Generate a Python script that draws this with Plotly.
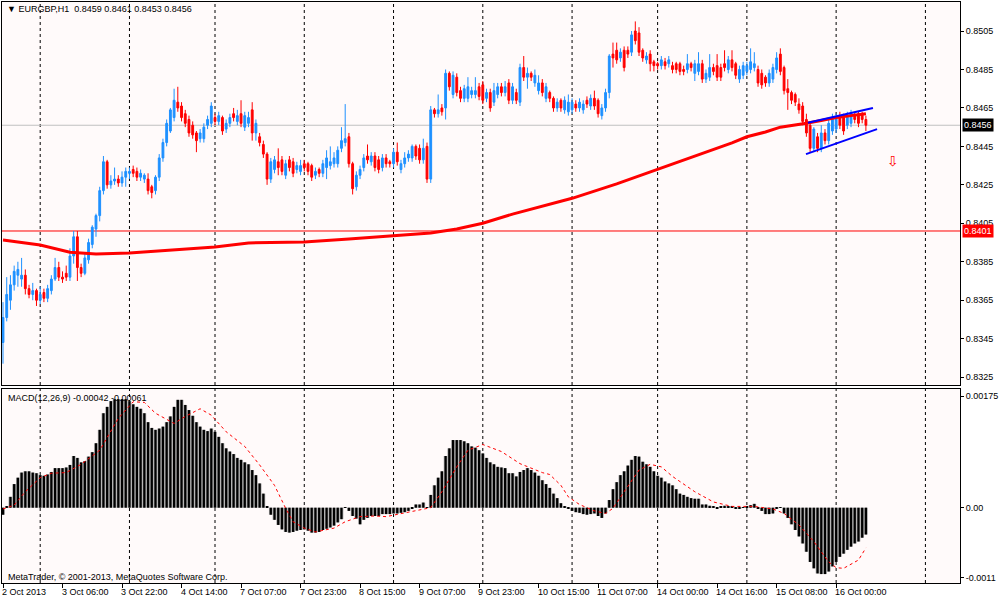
"""EURGBP H1 chart with 200-bar MA and MACD(12,26,9), MetaTrader style."""
import plotly.graph_objects as go

FONT = "Liberation Sans"
PIP = 0.0001       # price lists below are in pips
MACD_UNIT = 0.00001  # MACD lists below are in 1e-5

# one entry per hourly bar, 2 Oct 2013 14:00 .. 16 Oct 2013 08:00
open_pips = [
    8343, 8356, 8365, 8373, 8378, 8376, 8378, 8371, 8368, 8370,
    8365, 8369, 8366, 8370, 8376, 8382, 8377, 8379, 8377, 8388,
    8398, 8382, 8379, 8386, 8394, 8402, 8409, 8422, 8437, 8425,
    8427, 8428, 8426, 8429, 8431, 8433, 8432, 8429, 8428, 8428,
    8424, 8422, 8429, 8439, 8447, 8453, 8460, 8468, 8466, 8462,
    8459, 8456, 8452, 8449, 8449, 8456, 8457, 8460, 8458, 8460,
    8454, 8457, 8462, 8458, 8462, 8455, 8457, 8464, 8452, 8450,
    8446, 8441, 8428, 8433, 8437, 8438, 8430, 8438, 8437, 8433,
    8432, 8436, 8436, 8435, 8430, 8433, 8431, 8434, 8435, 8436,
    8436, 8444, 8447, 8450, 8436, 8424, 8430, 8434, 8440, 8437,
    8440, 8438, 8434, 8439, 8437, 8436, 8442, 8433, 8436, 8439,
    8439, 8445, 8444, 8438, 8445, 8428, 8464, 8462, 8465, 8465,
    8483, 8472, 8481, 8474, 8470, 8470, 8472, 8472, 8476, 8477,
    8470, 8473, 8468, 8472, 8476, 8473, 8478, 8469, 8473, 8468,
    8486, 8481, 8483, 8478, 8474, 8478, 8470, 8473, 8470, 8465,
    8469, 8464, 8463, 8464, 8467, 8465, 8464, 8469, 8466, 8470,
    8469, 8461, 8465, 8473, 8493, 8495, 8491, 8495, 8495, 8494,
    8505, 8504, 8495, 8490, 8493, 8489, 8488, 8487, 8489, 8488,
    8487, 8488, 8488, 8485, 8485, 8488, 8483, 8484, 8488, 8480,
    8481, 8486, 8487, 8486, 8488, 8485, 8490, 8488, 8480, 8482,
    8484, 8485, 8486, 8485, 8483, 8481, 8478, 8480, 8485, 8493,
    8486, 8475, 8473, 8472, 8467, 8466, 8459, 8456, 8444, 8450,
    8444, 8452, 8448, 8453, 8454, 8461, 8460, 8456, 8457, 8461,
    8462, 8462, 8459,
]
high_pips = [
    8364, 8377, 8378, 8383, 8385, 8387, 8381, 8373, 8374, 8371,
    8372, 8371, 8373, 8378, 8387, 8385, 8380, 8383, 8392, 8401,
    8401, 8384, 8390, 8397, 8404, 8410, 8424, 8440, 8438, 8430,
    8434, 8430, 8432, 8434, 8434, 8435, 8434, 8433, 8431, 8431,
    8425, 8430, 8441, 8449, 8459, 8465, 8475, 8476, 8468, 8464,
    8461, 8458, 8453, 8454, 8457, 8461, 8468, 8462, 8463, 8461,
    8459, 8462, 8465, 8464, 8469, 8463, 8463, 8468, 8459, 8452,
    8448, 8442, 8439, 8440, 8444, 8440, 8438, 8440, 8439, 8437,
    8438, 8438, 8437, 8436, 8434, 8434, 8438, 8443, 8445, 8442,
    8445, 8455, 8467, 8452, 8437, 8432, 8435, 8441, 8446, 8442,
    8442, 8440, 8441, 8441, 8438, 8444, 8447, 8438, 8442, 8443,
    8446, 8446, 8446, 8449, 8447, 8466, 8465, 8472, 8467, 8485,
    8484, 8484, 8483, 8476, 8477, 8481, 8476, 8481, 8478, 8479,
    8475, 8475, 8478, 8478, 8478, 8479, 8480, 8478, 8475, 8488,
    8492, 8486, 8484, 8485, 8482, 8480, 8478, 8474, 8471, 8470,
    8470, 8471, 8472, 8470, 8469, 8470, 8469, 8471, 8472, 8474,
    8470, 8467, 8475, 8493, 8499, 8499, 8496, 8497, 8497, 8505,
    8510, 8507, 8496, 8494, 8495, 8490, 8489, 8492, 8491, 8492,
    8489, 8489, 8489, 8487, 8493, 8489, 8490, 8494, 8490, 8485,
    8493, 8488, 8493, 8488, 8495, 8492, 8495, 8489, 8487, 8489,
    8489, 8496, 8494, 8487, 8485, 8482, 8485, 8488, 8494, 8496,
    8487, 8480, 8474, 8473, 8470, 8468, 8462, 8458, 8455, 8452,
    8456, 8454, 8459, 8462, 8462, 8463, 8462, 8463, 8464, 8463,
    8463, 8463, 8461,
]
low_pips = [
    8332, 8354, 8360, 8370, 8372, 8372, 8368, 8366, 8365, 8362,
    8363, 8364, 8364, 8368, 8375, 8375, 8374, 8375, 8375, 8384,
    8375, 8377, 8378, 8384, 8392, 8398, 8406, 8420, 8423, 8423,
    8425, 8424, 8424, 8424, 8428, 8429, 8427, 8427, 8426, 8420,
    8418, 8420, 8427, 8437, 8445, 8452, 8458, 8463, 8458, 8455,
    8450, 8449, 8442, 8447, 8447, 8454, 8455, 8456, 8456, 8451,
    8452, 8455, 8458, 8456, 8455, 8453, 8455, 8448, 8448, 8445,
    8439, 8425, 8426, 8431, 8430, 8430, 8428, 8432, 8429, 8431,
    8430, 8432, 8430, 8427, 8428, 8429, 8429, 8428, 8433, 8434,
    8434, 8442, 8445, 8434, 8420, 8422, 8428, 8432, 8436, 8435,
    8432, 8431, 8432, 8434, 8434, 8434, 8435, 8431, 8434, 8437,
    8437, 8438, 8436, 8436, 8426, 8426, 8460, 8460, 8461, 8459,
    8474, 8470, 8471, 8468, 8468, 8468, 8470, 8470, 8469, 8467,
    8468, 8463, 8466, 8470, 8471, 8471, 8467, 8467, 8467, 8466,
    8479, 8475, 8479, 8476, 8472, 8471, 8468, 8468, 8463, 8463,
    8463, 8462, 8461, 8462, 8463, 8463, 8462, 8465, 8464, 8464,
    8460, 8459, 8463, 8470, 8486, 8488, 8489, 8484, 8491, 8492,
    8498, 8492, 8489, 8488, 8484, 8484, 8485, 8485, 8485, 8486,
    8483, 8483, 8482, 8482, 8483, 8484, 8479, 8482, 8478, 8478,
    8479, 8482, 8479, 8479, 8484, 8483, 8484, 8480, 8478, 8480,
    8482, 8483, 8484, 8476, 8475, 8476, 8476, 8478, 8483, 8482,
    8472, 8464, 8467, 8466, 8462, 8456, 8450, 8442, 8442, 8442,
    8442, 8446, 8446, 8451, 8452, 8454, 8451, 8454, 8455, 8457,
    8455, 8457, 8453,
]
close_pips = [
    8356, 8368, 8373, 8380, 8381, 8378, 8371, 8368, 8370, 8365,
    8368, 8366, 8371, 8376, 8382, 8377, 8376, 8377, 8388, 8398,
    8382, 8379, 8387, 8395, 8403, 8409, 8422, 8437, 8425, 8427,
    8428, 8426, 8429, 8432, 8432, 8431, 8429, 8431, 8430, 8422,
    8421, 8429, 8439, 8447, 8457, 8464, 8469, 8465, 8460, 8457,
    8452, 8451, 8448, 8452, 8455, 8459, 8466, 8458, 8461, 8453,
    8457, 8460, 8460, 8461, 8457, 8461, 8460, 8452, 8457, 8447,
    8441, 8428, 8437, 8438, 8434, 8432, 8436, 8434, 8431, 8435,
    8435, 8434, 8432, 8429, 8432, 8431, 8436, 8439, 8437, 8439,
    8443, 8448, 8449, 8436, 8423, 8430, 8433, 8439, 8438, 8440,
    8434, 8433, 8439, 8436, 8436, 8442, 8437, 8436, 8439, 8441,
    8445, 8440, 8438, 8444, 8428, 8464, 8462, 8464, 8463, 8483,
    8476, 8482, 8473, 8470, 8475, 8476, 8474, 8474, 8471, 8469,
    8473, 8465, 8474, 8476, 8473, 8476, 8469, 8476, 8469, 8486,
    8481, 8483, 8481, 8482, 8478, 8473, 8476, 8470, 8465, 8468,
    8465, 8469, 8468, 8468, 8465, 8468, 8467, 8467, 8470, 8466,
    8462, 8465, 8473, 8492, 8491, 8490, 8494, 8486, 8493, 8503,
    8500, 8494, 8491, 8492, 8488, 8487, 8487, 8490, 8487, 8490,
    8485, 8485, 8484, 8484, 8488, 8486, 8488, 8488, 8480, 8483,
    8486, 8484, 8481, 8481, 8486, 8490, 8486, 8482, 8485, 8487,
    8487, 8489, 8488, 8478, 8477, 8478, 8483, 8486, 8491, 8484,
    8474, 8473, 8469, 8468, 8464, 8458, 8452, 8444, 8454, 8444,
    8452, 8448, 8457, 8460, 8460, 8456, 8453, 8461, 8462, 8459,
    8457, 8459, 8456,
]

# moving average (red) sampled at these bars
ma_bars = [0, 10, 18, 25, 34, 44, 57, 66, 81, 93, 105, 115, 122, 129, 137,
           145, 153, 165, 176, 186, 196, 200, 205, 209, 213, 216, 220, 224,
           228, 232]
ma_pips = [8396.3, 8393.7, 8390.0, 8389.0, 8389.5, 8391.0, 8392.7, 8394.8,
           8395.3, 8396.8, 8398.4, 8400.0, 8402.0, 8405.0, 8409.8, 8414.0,
           8418.0, 8425.5, 8433.0, 8440.0, 8446.8, 8450.0, 8452.5, 8455.0,
           8456.0, 8457.0, 8458.5, 8460.0, 8461.0, 8462.0]

# hand-drawn channel and arrow
chan_upper_bars = [216.4, 233.9]
chan_upper_pips = [8457.3, 8465.0]
chan_lower_bars = [215.9, 235.0]
chan_lower_pips = [8441.0, 8454.0]
arrow_bar, arrow_pips = 239.2, 8436.5

bid_level = 0.8456
hline_level = 0.8401

# MACD(12,26,9) histogram, one per bar
macd_main = [
    -11, 2, 17, 37, 47, 55, 57, 57, 55, 54,
    51, 50, 52, 56, 62, 62, 62, 63, 67, 81,
    78, 71, 73, 80, 87, 101, 122, 148, 158, 167,
    170, 170, 170, 170, 167, 162, 158, 155, 148, 134,
    125, 122, 124, 127, 134, 143, 158, 169, 169, 161,
    153, 144, 134, 127, 122, 120, 124, 119, 111, 101,
    93, 88, 84, 78, 75, 71, 68, 59, 51, 38,
    22, 2, -11, -19, -27, -34, -38, -39, -38, -36,
    -35, -34, -36, -39, -39, -38, -35, -33, -31, -28,
    -23, -18, 1, -5, -13, -17, -26, -19, -16, -13,
    -13, -13, -10, -10, -10, -9, -9, -8, -7, -5,
    -1, 5, 5, 8, 1, 20, 35, 47, 57, 81,
    93, 106, 106, 106, 104, 101, 96, 94, 90, 85,
    78, 71, 68, 64, 63, 62, 54, 54, 49, 56,
    59, 62, 59, 55, 50, 43, 37, 31, 22, 15,
    7, 2, -2, -5, -7, -8, -10, -11, -10, -9,
    -13, -16, -9, 12, 29, 40, 51, 57, 66, 75,
    81, 80, 72, 68, 64, 57, 50, 47, 41, 38,
    35, 29, 22, 20, 17, 15, 14, 14, 5, 5,
    3, 2, -2, 2, 3, 2, 2, -2, -1, 1,
    2, 4, 6, -2, -5, -10, -10, -9, -1, 1,
    -9, -16, -26, -35, -45, -56, -69, -85, -95, -103,
    -104, -104, -100, -92, -85, -77, -72, -66, -61, -56,
    -53, -47, -42,
]
signal_bars = [0, 3, 6, 10, 13, 17, 21, 26, 31, 35, 38, 41, 46, 49, 53, 56,
               60, 65, 69, 73, 76, 78, 81, 84, 89, 92, 96, 100, 103, 107, 111,
               115, 118, 122, 125, 129, 134, 139, 145, 147, 150, 152, 155,
               159, 162, 164, 167, 171, 174, 177, 180, 186, 191, 196, 202,
               207, 210, 214, 218, 222, 224, 226, 230, 232]
signal_vals = [-2, 4, 25, 47, 54, 55, 68, 90, 140, 166, 165, 148, 132, 143,
               155, 145, 119, 96, 67, 35, -1, -22, -32, -38, -32, -22, -14,
               -13, -14, -9, -5, 0, 25, 64, 90, 99, 88, 69, 55, 52, 35, 17, 5,
               -5, -9, -1, 25, 59, 68, 64, 49, 25, 9, 2, 2, -2, -9, -27, -53,
               -85, -94, -95, -82, -63]

# axes
price_ticks = [0.8325, 0.8345, 0.8365, 0.8385, 0.8405, 0.8425, 0.8445,
               0.8465, 0.8485, 0.8505]
macd_ticks = [0.00175, 0.0, -0.0011]
macd_tick_text = ["0.00175", "0.00", "-0.0011"]
day_start_bars = [10, 34, 57, 81, 105, 129, 153, 176, 200, 224, 248]
time_label_bars = [0, 16, 32, 48, 64, 80, 96, 112, 128, 144, 160, 176, 192,
                   208, 224]
time_labels = ["2 Oct 2013", "3 Oct 06:00", "3 Oct 22:00", "4 Oct 14:00",
               "7 Oct 07:00", "7 Oct 23:00", "8 Oct 15:00", "9 Oct 07:00",
               "9 Oct 23:00", "10 Oct 15:00", "11 Oct 07:00", "14 Oct 00:00",
               "14 Oct 16:00", "15 Oct 08:00", "16 Oct 00:00"]


def px_y(py):
    """pixel row (from top of a 600px figure) -> paper y"""
    return 1 - py / 600


bars = list(range(len(close_pips)))
to_price = lambda vals: [v * PIP for v in vals]  # noqa: E731

BLUE, RED = "#1E90FF", "#FF0000"
X_RANGE = [-0.27, 257.3]
X_DOMAIN = [0.002, 0.96]

fig = go.Figure()
fig.add_trace(go.Candlestick(
    x=bars, open=to_price(open_pips), high=to_price(high_pips),
    low=to_price(low_pips), close=to_price(close_pips),
    increasing=dict(line=dict(color=BLUE, width=1), fillcolor=BLUE),
    decreasing=dict(line=dict(color=RED, width=1), fillcolor=RED),
    whiskerwidth=0, hoverinfo="skip", xaxis="x", yaxis="y"))
fig.add_trace(go.Scatter(x=ma_bars, y=to_price(ma_pips), mode="lines",
                         line=dict(color=RED, width=3), xaxis="x", yaxis="y"))
for bx, by in ((chan_upper_bars, chan_upper_pips),
               (chan_lower_bars, chan_lower_pips)):
    fig.add_trace(go.Scatter(x=bx, y=to_price(by), mode="lines",
                             line=dict(color="#0000FF", width=2),
                             xaxis="x", yaxis="y"))
fig.add_trace(go.Scatter(x=[arrow_bar], y=[arrow_pips * PIP], mode="text",
                         text=["⇩"], textfont=dict(color=RED, size=14,
                                                   family="DejaVu Sans"),
                         xaxis="x", yaxis="y"))

macd_y = [v * MACD_UNIT for v in macd_main]
fig.add_trace(go.Bar(x=bars, y=macd_y, width=1.0, marker_color="#A0A0A0",
                     marker_line_width=0, xaxis="x2", yaxis="y2"))
fig.add_trace(go.Bar(x=bars, y=macd_y, width=0.6, marker_color="#000000",
                     marker_line_width=0, xaxis="x2", yaxis="y2"))
fig.add_trace(go.Scatter(x=signal_bars, y=[v * MACD_UNIT for v in signal_vals],
                         mode="lines", line=dict(color=RED, width=1, dash="dot"),
                         xaxis="x2", yaxis="y2"))

shapes = []
for d in day_start_bars:
    for xref, yref in (("x", "y domain"), ("x2", "y2 domain")):
        shapes.append(dict(type="line", xref=xref, yref=yref, x0=d, x1=d,
                           y0=0, y1=1, layer="below",
                           line=dict(color="black", width=1, dash="3px,3px")))
shapes.append(dict(type="line", xref="x domain", yref="y", x0=0, x1=1,
                   y0=bid_level, y1=bid_level, layer="below",
                   line=dict(color="#C0C0C0", width=1)))
shapes.append(dict(type="line", xref="x domain", yref="y", x0=0, x1=1,
                   y0=hline_level, y1=hline_level, layer="below",
                   line=dict(color=RED, width=1)))

small = dict(family=FONT, size=9, color="black")
annotations = [
    dict(xref="paper", yref="paper", x=0.005, y=px_y(9), xanchor="left",
         yanchor="middle", showarrow=False, font=small,
         text="▼ EURGBP,H1  0.8459 0.8461 0.8453 0.8456"),
    dict(xref="paper", yref="paper", x=0.006, y=px_y(398), xanchor="left",
         yanchor="middle", showarrow=False, font=small,
         text="MACD(12,26,9) -0.00042 -0.00061"),
    dict(xref="paper", yref="paper", x=0.006, y=px_y(577), xanchor="left",
         yanchor="middle", showarrow=False, font=small,
         text="MetaTrader, © 2001-2013, MetaQuotes Software Corp."),
    dict(xref="paper", yref="y", x=0.962, y=bid_level, xanchor="left",
         yanchor="middle", showarrow=False, bgcolor="black", borderpad=1,
         font=dict(family=FONT, size=9, color="white"),
         text=f"{bid_level:.4f}"),
    dict(xref="paper", yref="y", x=0.962, y=hline_level, xanchor="left",
         yanchor="middle", showarrow=False, bgcolor=RED, borderpad=1,
         font=dict(family=FONT, size=9, color="white"),
         text=f"{hline_level:.4f}"),
]
for b, lab in zip(time_label_bars, time_labels):
    annotations.append(dict(xref="x2", yref="paper", x=b, y=px_y(592),
                            xanchor="left", yanchor="middle", xshift=-3,
                            showarrow=False, font=small, text=lab))

axis_common = dict(showgrid=False, zeroline=False, showline=True,
                   linecolor="black", linewidth=1, mirror=True,
                   tickfont=small, tickcolor="black")
fig.update_layout(
    width=1000, height=600, margin=dict(l=0, r=0, t=0, b=0),
    paper_bgcolor="white", plot_bgcolor="#FFFAFA",
    showlegend=False, hovermode=False, barmode="overlay",
    font=dict(family=FONT, size=9),
    xaxis=dict(axis_common, domain=X_DOMAIN, range=X_RANGE, anchor="y",
               showticklabels=False, ticks="", rangeslider=dict(visible=False)),
    yaxis=dict(axis_common, domain=[px_y(385), px_y(2)],
               range=[0.83209, 0.85201], anchor="x", side="right",
               tickmode="array", tickvals=price_ticks,
               ticktext=[f"{t:.4f}" for t in price_ticks],
               ticks="outside", ticklen=3),
    xaxis2=dict(axis_common, domain=X_DOMAIN, range=X_RANGE, anchor="y2",
                tickmode="array", tickvals=time_label_bars,
                showticklabels=False, ticks="outside", ticklen=4),
    yaxis2=dict(axis_common, domain=[px_y(583), px_y(389)],
                range=[-0.00118, 0.00186], anchor="x2", side="right",
                tickmode="array", tickvals=macd_ticks, ticktext=macd_tick_text,
                ticks="outside", ticklen=3),
    shapes=shapes, annotations=annotations,
)

# the page is shot at exactly 1000x600, so drop the default body margin
fig.write_html("out.html", config={"displayModeBar": False},
               post_script="document.body.style.margin='0';"
                           "document.body.style.overflow='hidden';")
